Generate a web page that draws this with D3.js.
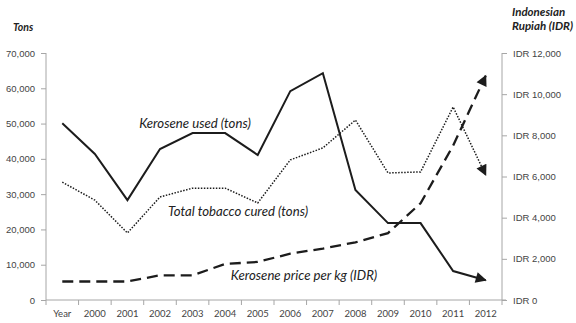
<!DOCTYPE html>
<html>
<head>
<meta charset="utf-8">
<script src="https://cdn.jsdelivr.net/npm/d3@7"></script>
<style>
  html, body { margin: 0; padding: 0; background: #fff; }
  svg { display: block; font-family: Lato, "Open Sans", sans-serif; }
</style>
</head>
<body>
<svg id="chart" width="576" height="323"></svg>
<script>
// Categories along the x axis
const categories = ["Year", "2000", "2001", "2002", "2003", "2004", "2005", "2006", "2007", "2008", "2009", "2010", "2011", "2012"];

// Kerosene used (tons), left axis
const keroseneUsed = [50100, 41400, 28300, 42800, 47300, 47300, 41100, 59200, 64300, 31200, 21800, 21800, 8200, 5600];

// Total tobacco cured (tons), left axis
const tobaccoCured = [33400, 28300, 19000, 29200, 31700, 31700, 27500, 39700, 43100, 51000, 36000, 36300, 54700, 35400];

// Kerosene price per kg (IDR), right axis
const kerosenePrice = [900, 900, 900, 1200, 1200, 1750, 1850, 2250, 2500, 2800, 3250, 4700, 7500, 10900];

// Axis ticks
const tonsTicks = [0, 10000, 20000, 30000, 40000, 50000, 60000, 70000];
const idrTicks = [0, 2000, 4000, 6000, 8000, 10000, 12000];

const svg = d3.select("#chart");
const plotL = 46, plotR = 502, plotT = 53, plotB = 300;
const axisColor = "#a6a6a6";
const ink = "#1c1c1c";

const x = d3.scalePoint().domain(categories).range([plotL, plotR]).padding(0.5);
const yL = d3.scaleLinear().domain([0, 70000]).range([plotB, plotT]);
const yR = d3.scaleLinear().domain([0, 12000]).range([plotB, plotT]);
const step = x.step();

// Arrowhead marker for line ends
const defs = svg.append("defs");
defs.append("marker")
  .attr("id", "arrow")
  .attr("viewBox", "0 0 10 10")
  .attr("refX", 9).attr("refY", 5)
  .attr("markerUnits", "userSpaceOnUse")
  .attr("markerWidth", 13).attr("markerHeight", 11)
  .attr("orient", "auto")
  .append("path")
  .attr("d", "M0,0 L10,5 L0,10 Z")
  .attr("fill", ink);

// Left axis
const gL = svg.append("g").attr("transform", `translate(${plotL},0)`)
  .call(d3.axisLeft(yL).tickValues(tonsTicks).tickSize(5).tickPadding(6)
    .tickFormat(d3.format(",")));
// Right axis
const gR = svg.append("g").attr("transform", `translate(${plotR},0)`)
  .call(d3.axisRight(yR).tickValues(idrTicks).tickSize(5).tickPadding(6)
    .tickFormat(d => "IDR " + d3.format(",")(d)));

[gL, gR].forEach(g => {
  g.select(".domain").attr("stroke", axisColor).attr("d", `M0,${plotT}V${plotB}`);
  g.selectAll(".tick line").attr("stroke", axisColor);
  g.selectAll(".tick text").attr("fill", "#444").style("font-size", "9.5px");
});

// Bottom axis: labels at categories, tick marks between them
const gB = svg.append("g").attr("transform", `translate(0,${plotB})`);
gB.append("line").attr("x1", plotL).attr("x2", plotR + 4)
  .attr("stroke", axisColor);
const bounds = d3.range(categories.length + 1).map(i => plotL + i * step);
gB.selectAll("line.tk").data(bounds).join("line")
  .attr("class", "tk")
  .attr("x1", d => d).attr("x2", d => d)
  .attr("y1", 0).attr("y2", 5)
  .attr("stroke", axisColor);
gB.selectAll("text").data(categories).join("text")
  .attr("x", d => x(d)).attr("y", 17)
  .attr("text-anchor", "middle")
  .attr("fill", "#444")
  .style("font-size", "9.5px")
  .text(d => d);

// Series lines
const lineL = d3.line().x((d, i) => x(categories[i])).y(d => yL(d));
const lineR = d3.line().x((d, i) => x(categories[i])).y(d => yR(d));

svg.append("path").datum(tobaccoCured)
  .attr("d", lineL).attr("fill", "none")
  .attr("stroke", ink).attr("stroke-width", 1.5)
  .attr("stroke-dasharray", "1.5,1.5")
  .attr("marker-end", "url(#arrow)");

svg.append("path").datum(kerosenePrice)
  .attr("d", lineR).attr("fill", "none")
  .attr("stroke", ink).attr("stroke-width", 2.3)
  .attr("stroke-dasharray", "11,6")
  .attr("marker-end", "url(#arrow)");

svg.append("path").datum(keroseneUsed)
  .attr("d", lineL).attr("fill", "none")
  .attr("stroke", ink).attr("stroke-width", 2)
  .attr("stroke-linejoin", "miter")
  .attr("marker-end", "url(#arrow)");

// Series labels
const labels = [
  { text: "Kerosene used (tons)", x: 195, y: 128 },
  { text: "Total tobacco cured (tons)", x: 238, y: 216 },
  { text: "Kerosene price per kg (IDR)", x: 304, y: 280 }
];
svg.selectAll("text.series").data(labels).join("text")
  .attr("class", "series")
  .attr("x", d => d.x).attr("y", d => d.y)
  .attr("text-anchor", "middle")
  .attr("fill", "#222")
  .style("font-size", "13.2px")
  .style("font-style", "italic")
  .text(d => d.text);

// Axis titles
svg.append("text").attr("x", 13).attr("y", 31)
  .attr("fill", "#222").style("font-size", "10.5px")
  .style("font-weight", "bold").style("font-style", "italic")
  .text("Tons");
svg.append("text").attr("x", 512).attr("y", 16)
  .attr("fill", "#222").style("font-size", "11.5px")
  .style("font-weight", "bold").style("font-style", "italic")
  .text("Indonesian");
svg.append("text").attr("x", 512).attr("y", 30)
  .attr("fill", "#222").style("font-size", "11.5px")
  .style("font-weight", "bold").style("font-style", "italic")
  .text("Rupiah (IDR)");
</script>
</body>
</html>
